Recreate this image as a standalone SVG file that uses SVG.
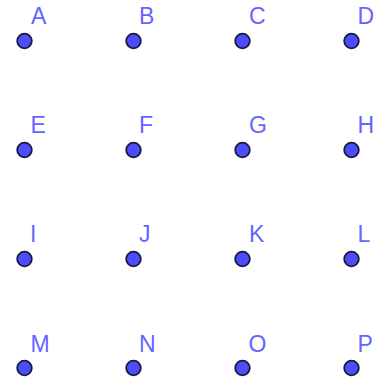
<svg xmlns="http://www.w3.org/2000/svg" width="384" height="381" viewBox="0 0 384 381">
<style>
.pt{fill:#4d4dff;stroke:#1a1a3a;stroke-width:1.8}
.lb{font-family:"Liberation Sans",Arial,sans-serif;font-size:23px;fill:#6464ff}
</style>
<rect width="384" height="381" fill="#ffffff"/>
<g id="connectors"/>
<g id="A"><circle class="pt" cx="24.5" cy="41" r="7.3"/><text class="lb" x="31" y="24">A</text></g>
<g id="B"><circle class="pt" cx="133.5" cy="41" r="7.3"/><text class="lb" x="139" y="24">B</text></g>
<g id="C"><circle class="pt" cx="242.5" cy="41" r="7.3"/><text class="lb" x="249" y="24">C</text></g>
<g id="D"><circle class="pt" cx="351.5" cy="41" r="7.3"/><text class="lb" x="357.5" y="24">D</text></g>
<g id="E"><circle class="pt" cx="24.5" cy="150" r="7.3"/><text class="lb" x="30.5" y="133">E</text></g>
<g id="F"><circle class="pt" cx="133.5" cy="150" r="7.3"/><text class="lb" x="139" y="133">F</text></g>
<g id="G"><circle class="pt" cx="242.5" cy="150" r="7.3"/><text class="lb" x="249" y="133">G</text></g>
<g id="H"><circle class="pt" cx="351.5" cy="150" r="7.3"/><text class="lb" x="357.5" y="133">H</text></g>
<g id="I"><circle class="pt" cx="24.5" cy="259" r="7.3"/><text class="lb" x="30" y="242">I</text></g>
<g id="J"><circle class="pt" cx="133.5" cy="259" r="7.3"/><text class="lb" x="139" y="242">J</text></g>
<g id="K"><circle class="pt" cx="242.5" cy="259" r="7.3"/><text class="lb" x="249" y="242">K</text></g>
<g id="L"><circle class="pt" cx="351.5" cy="259" r="7.3"/><text class="lb" x="357.5" y="242">L</text></g>
<g id="M"><circle class="pt" cx="24.5" cy="368" r="7.3"/><text class="lb" x="30.5" y="352">M</text></g>
<g id="N"><circle class="pt" cx="133.5" cy="368" r="7.3"/><text class="lb" x="139" y="352">N</text></g>
<g id="O"><circle class="pt" cx="242.5" cy="368" r="7.3"/><text class="lb" x="248.5" y="352">O</text></g>
<g id="P"><circle class="pt" cx="351.5" cy="368" r="7.3"/><text class="lb" x="357.5" y="352">P</text></g>
</svg>
